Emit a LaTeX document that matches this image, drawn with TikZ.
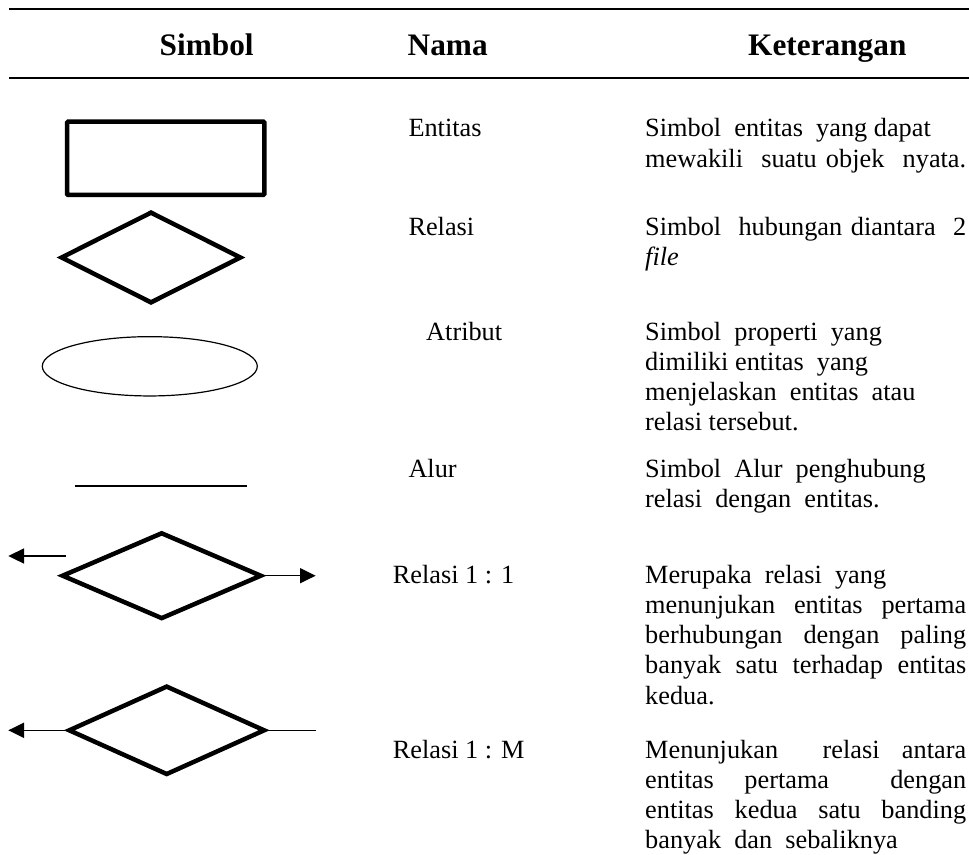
\documentclass[tikz,border=0pt]{standalone}
\usepackage{fontspec}
\setmainfont{Liberation Serif}
\usetikzlibrary{
  arrows.meta,
  positioning,
  shapes.geometric
}
\newcommand{\normspaces}{\spaceskip 0pt\relax\xspaceskip 0pt\relax}
\newcommand{\jline}[1]{\makebox[321pt][s]{\normspaces #1}}
\tikzset{
  headtext/.style={font=\bfseries\fontsize{31.3}{36}\selectfont,anchor=base west,inner sep=0},
  namatext/.style={font=\fontsize{26.3}{30.2}\selectfont,anchor=base west,inner sep=0},
  kettext/.style={font=\fontsize{26.3}{30.2}\selectfont,anchor=north west,inner sep=0,text width=321pt,align=left},
  tablerule/.style={line width=2pt},
  entbox/.style={draw,line width=4.5pt,rounded corners=1pt,minimum width=197.3pt,minimum height=73.3pt,inner sep=0},
  relshape/.style={draw,diamond,line width=4.5pt,inner sep=0},
  attrshape/.style={draw,ellipse,line width=1.2pt,minimum width=215pt,minimum height=59.3pt,inner sep=0},
  flowline/.style={line width=2pt},
  cardarrow/.style={line width=1.5pt,-{Triangle[length=15.7pt,width=15pt]}},
  plainline/.style={line width=1.5pt}
}
\begin{document}
\begin{tikzpicture}[x=1pt,y=-1pt]
\useasboundingbox (0,0) rectangle (969,854);
% header
\draw[tablerule] (9,9) -- (969,9);
\node[headtext] (hsim) at (159.5,55) {Simbol};
\node[headtext] (hnam) at (407.5,55) {Nama};
\node[headtext] (hket) at (748,55) {Keterangan};
\draw[tablerule] (9,77.7) -- (969,77.7);
% symbols
\node[entbox] (ent) at (165.7,158.3) {};
\node[relshape, minimum width=180.7pt, minimum height=91.6pt] (rel) at (151,257.5) {};
\node[attrshape] (atr) at (149.8,366.3) {};
\coordinate (alurA) at (75,485.7);
\coordinate (alurB) at (246.7,485.7);
\draw[flowline] (alurA) -- (alurB);
\node[relshape, minimum width=200pt, minimum height=86.7pt] (r11) at (161.7,575.7) {};
\coordinate (r11tail) at (65.7,556);
\coordinate (r11left) at (8.3,556);
\coordinate (r11right) at (315.7,575.7);
\draw[cardarrow] (r11tail) -- (r11left);
\draw[cardarrow] (r11.east) -- (r11right);
\node[relshape, minimum width=196.7pt, minimum height=89.3pt] (r1m) at (166.7,730.3) {};
\coordinate (r1mleft) at (8.3,730.3);
\coordinate (r1mright) at (316,730.3);
\draw[cardarrow] (r1m.west) -- (r1mleft);
\draw[plainline] (r1m.east) -- (r1mright);
% nama
\node[namatext] (nent) at (408.3,136.7) {Entitas};
\node[namatext] (nrel) at (408.3,235) {Relasi};
\node[namatext] (natr) at (426,340) {Atribut};
\node[namatext] (nalr) at (408.3,477) {Alur};
\node[namatext] (n11) at (392.7,583) {Relasi 1 : 1};
\node[namatext] (n1m) at (392.7,758) {Relasi 1 : M};
% keterangan
\node[kettext] (kent) at (645,115.56) {\normspaces\strut Simbol~ entitas~ yang dapat\\
  \jline{mewakili~ suatu objek~ nyata.}};
\node[kettext] (krel) at (645,213.86) {\normspaces\strut\jline{Simbol~ hubungan diantara~ 2}\\
  \textit{file}};
\node[kettext] (katr) at (645,318.86) {\normspaces\strut Simbol~ properti~ yang\\
  dimiliki entitas~ yang\\
  menjelaskan~ entitas~ atau\\
  relasi tersebut.};
\node[kettext] (kalr) at (645,455.86) {\normspaces\strut Simbol~ Alur~ penghubung\\
  relasi~ dengan~ entitas.};
\node[kettext] (k11) at (645,561.86) {\normspaces\strut Merupaka~ relasi~ yang\\
  \jline{menunjukan entitas pertama}\\
  \jline{berhubungan dengan paling}\\
  \jline{banyak satu terhadap entitas}\\
  kedua.};
\node[kettext] (k1m) at (645,736.86) {\normspaces\strut\jline{Menunjukan~ relasi antara}\\
  \jline{entitas pertama~ dengan}\\
  \jline{entitas kedua satu banding}\\
  banyak~ dan~ sebaliknya};
\end{tikzpicture}
\end{document}
